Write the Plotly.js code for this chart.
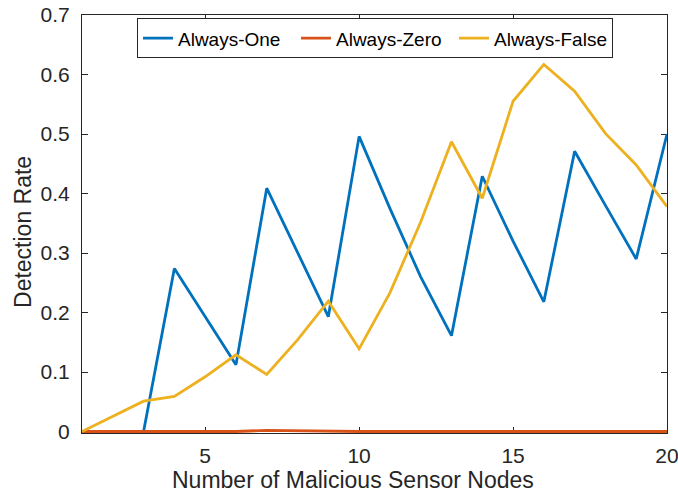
<!DOCTYPE html>
<html>
<head>
<meta charset="utf-8">
<script src="https://cdn.plot.ly/plotly-3.0.1.min.js"></script>
<style>html,body{margin:0;padding:0;background:#fff;}#chart{width:678px;height:493px;}</style>
</head>
<body>
<div id="chart"></div>
<script>
const nodes = [1,2,3,4,5,6,7,8,9,10,11,12,13,14,15,16,17,18,19,20];
const alwaysOne = [0,0,0,0.274,0.192,0.112,0.409,0.302,0.193,0.496,0.375,0.26,0.161,0.429,0.32,0.218,0.471,0.38,0.29,0.5];
const alwaysZero = [0,0,0,0,0,0,0.002,0.001,0,0,0,0,0,0,0,0,0,0,0,0];
const alwaysFalse = [0,0.025,0.051,0.059,0.092,0.129,0.096,0.154,0.219,0.139,0.233,0.352,0.487,0.392,0.555,0.617,0.572,0.501,0.448,0.378];
const seriesNames = ['Always-One','Always-Zero','Always-False'];
const seriesColors = ['#0072BD','#D95319','#EDB120'];
const xTicks = [5,10,15,20];
const yTicks = [0,0.1,0.2,0.3,0.4,0.5,0.6,0.7];
const xTitle = 'Number of Malicious Sensor Nodes';
const yTitle = 'Detection Rate';

const allY = [alwaysOne, alwaysZero, alwaysFalse];
const traces = allY.map((ys,i)=>({
  x: nodes, y: ys, type:'scatter', mode:'lines', name: seriesNames[i],
  line:{color:seriesColors[i], width:2.8}
}));

const FONT = 'Liberation Sans, Arial, sans-serif';
const axisCommon = {
  showgrid:false, zeroline:false, showline:true, mirror:'ticks',
  linecolor:'#262626', linewidth:1, ticks:'inside', ticklen:6, tickcolor:'#262626',
  layer:'below traces', ticklabeloverflow:'allow',
  tickfont:{family:FONT, size:21, color:'#262626'}
};
const layout = {
  width:678, height:493,
  margin:{l:82, r:11, t:15, b:60},
  paper_bgcolor:'#fff', plot_bgcolor:'#fff',
  font:{family:FONT, color:'#262626'},
  xaxis: Object.assign({}, axisCommon, {
    range:[1,20], tickvals:xTicks, ticktext:xTicks.map(String), ticklabelstandoff:4
  }),
  yaxis: Object.assign({}, axisCommon, {
    range:[-0.0025,0.7], tickvals:yTicks, ticktext:yTicks.map(v=>String(v)), ticklabelstandoff:7
  }),
  annotations:[
    {text:xTitle, xref:'paper', yref:'paper', x:0.4632, y:0, xanchor:'center', yanchor:'middle',
     yshift:-47, showarrow:false, font:{family:FONT, size:23, color:'#262626'}},
    {text:yTitle, xref:'paper', yref:'paper', x:0, y:0.4809, xanchor:'center', yanchor:'middle',
     xshift:-59, textangle:-90, showarrow:false, font:{family:FONT, size:23, color:'#262626'}}
  ],
  showlegend:true,
  legend:{
    orientation:'h', x:0.094, y:0.992, xanchor:'left', yanchor:'top',
    bgcolor:'#fff', bordercolor:'#262626', borderwidth:1,
    font:{family:FONT, size:19, color:'#000'}, itemwidth:30,
    entrywidth:113, entrywidthmode:'pixels'
  }
};
Plotly.newPlot('chart', traces, layout, {displayModeBar:false, staticPlot:true});
</script>
</body>
</html>
